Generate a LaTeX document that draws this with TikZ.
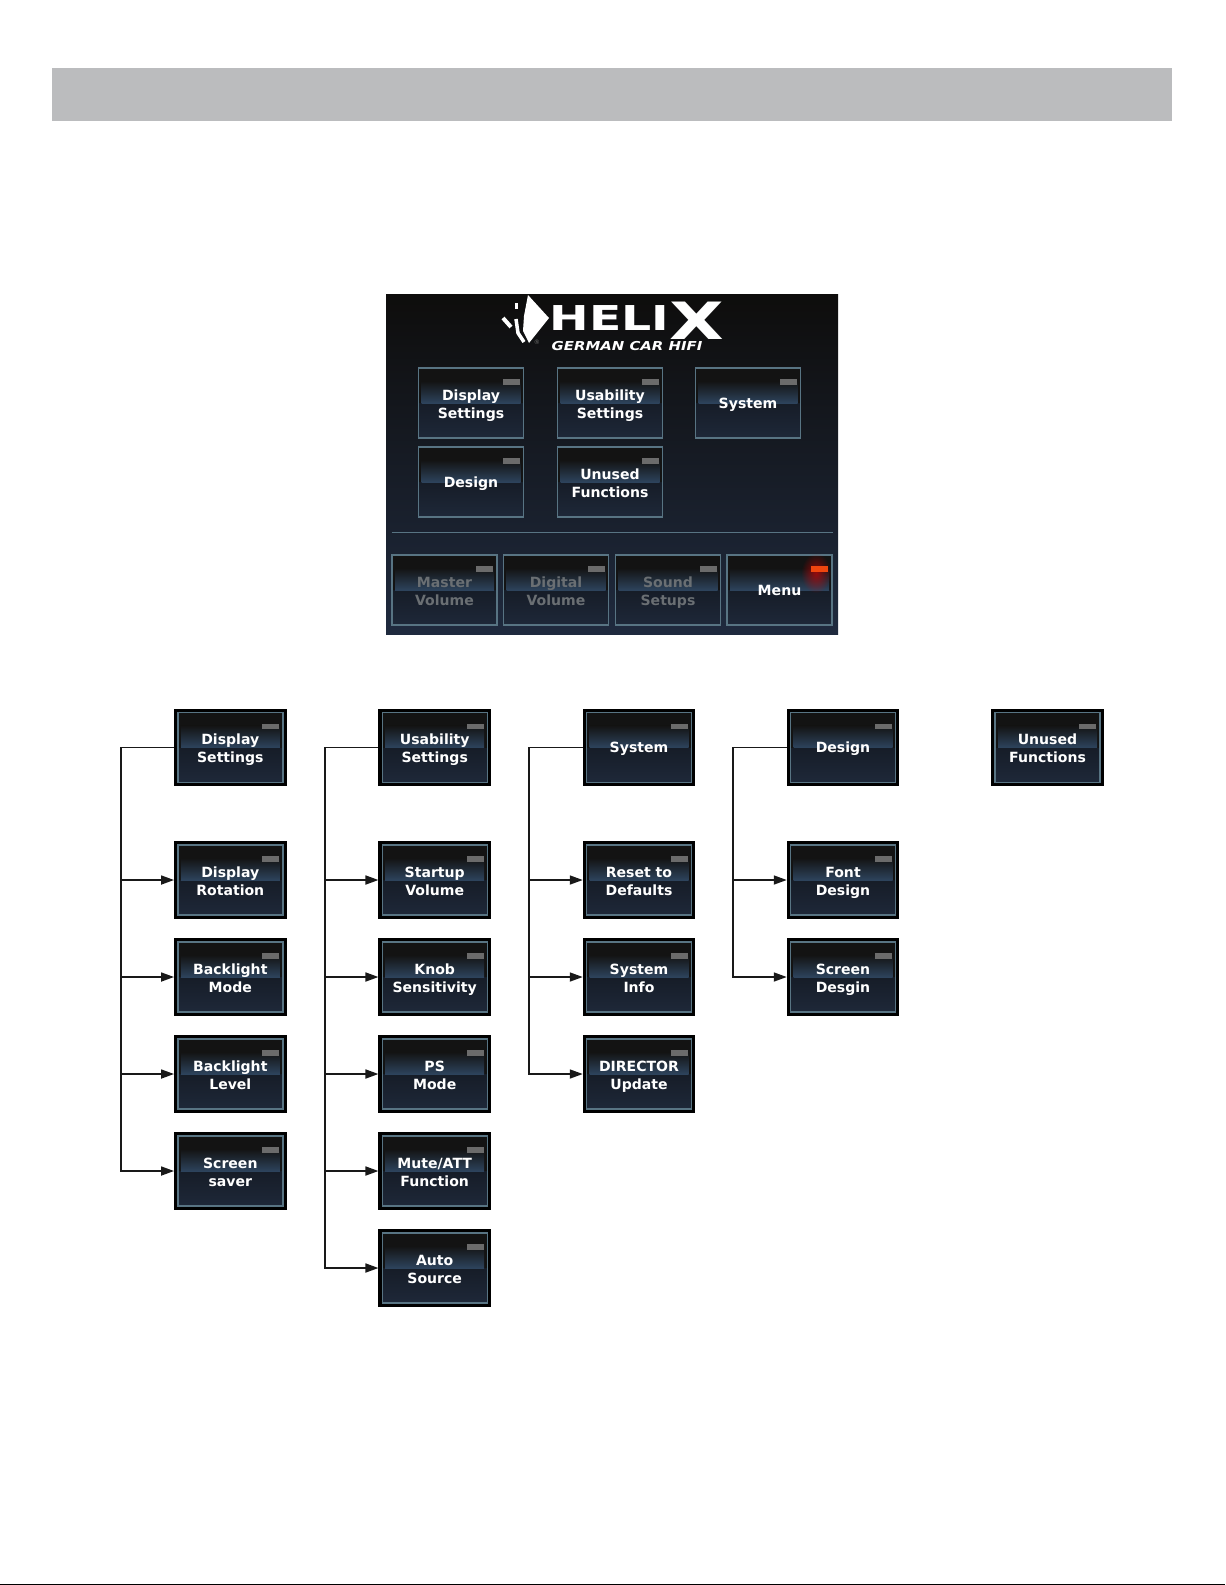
\documentclass[tikz,border=0pt]{standalone}
\usepackage{fontspec}
\setmainfont{DejaVu Sans}
\usetikzlibrary{arrows.meta,fadings}
\definecolor{barcol}{HTML}{BBBCBE}
\definecolor{paneltop}{HTML}{0E0D0C}
\definecolor{panelbot}{HTML}{1F2A3E}
\definecolor{btnframe}{HTML}{587483}
\definecolor{bandtop}{HTML}{131313}
\definecolor{bandbot}{HTML}{2D435C}
\definecolor{lowtop}{HTML}{0E1116}
\definecolor{lowbot}{HTML}{1E2839}
\definecolor{ledoff}{HTML}{6B6B6B}
\definecolor{ledon}{HTML}{F0460F}
\definecolor{dimtext}{HTML}{6A6F73}
\newcommand{\btnfont}{\fontsize{8}{10.4}\selectfont\bfseries}
\newcommand{\tworow}[1]{\rule{0pt}{9pt}#1\rule[-2pt]{0pt}{2pt}}
\tikzfading[name=ledfade, inner color=transparent!35, outer color=transparent!100]
\tikzset{
  menubtn/.style={rectangle, minimum width=21mm, minimum height=14mm, inner sep=0pt,
    draw=btnframe, line width=0.28mm, text=white, align=center, font=\btnfont,
    path picture={
      \shade[top color=lowtop, bottom color=lowbot] (path picture bounding box.west) rectangle (path picture bounding box.south east);
      \fill[bandtop] (path picture bounding box.west) rectangle (path picture bounding box.north east);
      \shade[top color=bandtop, bottom color=bandbot]
        ([xshift=0.6mm]path picture bounding box.west) rectangle ([shift={(-0.6mm,4.4mm)}]path picture bounding box.east);
      \fill[ledoff] ([shift={(6.36mm,3.67mm)}]path picture bounding box.center) rectangle ([shift={(9.76mm,4.73mm)}]path picture bounding box.center);
    }},
  oneline/.style={execute at begin node={\rule{0pt}{7.7pt}}, execute at end node={\rule[-2pt]{0pt}{2pt}}},
  boxed/.style={preaction={draw=black, line width=1.5mm}, outer sep=0.75mm},
  dimmed/.style={text=dimtext},
  wire/.style={black!90, line width=0.34mm},
  link/.style={wire, -{Triangle[length=2.6mm,width=1.8mm]}},
}
\begin{document}
\begin{tikzpicture}[x=0.2mm, y=-0.2mm]
\useasboundingbox (0,0) rectangle (1225,1585);
\fill[white] (0,0) rectangle (1225,1585);
\fill[barcol] (52,68) rectangle (1172,120.7);
\fill[black] (0,1583.6) rectangle (1225,1585);
% screen
\shade[top color=paneltop, bottom color=panelbot] (386,294) rectangle (838,634);
\fill[white] (528,295)--(549,318)--(529,343)--(523,331)--(524,316)--cycle;
\draw[white, line width=0.6mm] (516,303)--(516,309);
\draw[white, line width=0.8mm] (503,318)--(511,327);
\draw[white, line width=0.7mm] (516,319)--(518,333)--(524,342);
\node[text=white, font=\fontsize{19.5}{20}\selectfont\bfseries, inner sep=0pt, xscale=1.38] (logoname) at (637,321)
  {HELI\raisebox{-1.9mm}{\scalebox{1.5}{X}}};
\node[text=white, font=\fontsize{7}{8}\selectfont\bfseries\itshape, inner sep=0pt, xscale=1.21] (logosub) at (627,346) {GERMAN CAR HIFI};
\node[text=ledoff, font=\fontsize{3.5}{4}\selectfont, inner sep=0pt] (logomark) at (537,342) {®};
\foreach \id/\x/\y/\txt in {pds/471/403/{Display\\Settings}, pus/610/403/{Usability\\Settings},
    puf/610/482/{Unused\\Functions}}{
  \node[menubtn] (\id) at (\x,\y) {\tworow{\txt}};
}
\node[menubtn, oneline] (psy) at (748,403) {System};
\node[menubtn, oneline] (pde) at (471,482) {Design};
\coordinate (sepl) at (391.5,532.3);
\coordinate (sepr) at (833,532.3);
\draw[btnframe, line width=0.2mm] (sepl)--(sepr);
\foreach \id/\x/\txt in {mvol/444.5/{Master\\Volume}, dvol/556/{Digital\\Volume}, sset/668/{Sound\\Setups}}{
  \node[menubtn, dimmed] (\id) at (\x,590) {\tworow{\txt}};
}
\node[menubtn, oneline] (menu) at (779.5,590) {Menu};
\fill[red!85!black, path fading=ledfade] ([shift={(7.3mm,3.4mm)}]menu.center) ellipse (3mm and 4mm);
\fill[ledon] ([shift={(6.36mm,3.67mm)}]menu.center) rectangle ([shift={(9.76mm,4.73mm)}]menu.center);
% first column
\foreach \id/\y/\txt in {ds/747.5/{Display\\Settings}, dr/880/{Display\\Rotation}, bm/977/{Backlight\\Mode},
    bl/1074/{Backlight\\Level}, ss/1171/{Screen\\saver}}{
  \node[menubtn, boxed] (\id) at (230.3,\y) {\tworow{\txt}};
}
% second column
\foreach \id/\y/\txt in {us/747.5/{Usability\\Settings}, sv/880/{Startup\\Volume}, ks/977/{Knob\\Sensitivity},
    ps/1074/{PS\\Mode}, ma/1171/{Mute/ATT\\Function}, as/1268/{Auto\\Source}}{
  \node[menubtn, boxed] (\id) at (434.7,\y) {\tworow{\txt}};
}
% third column
\node[menubtn, boxed, oneline] (sy) at (639,747.5) {System};
\foreach \id/\y/\txt in {rd/880/{Reset to\\Defaults}, si/977/{System\\Info}, du/1074/{DIRECTOR\\Update}}{
  \node[menubtn, boxed] (\id) at (639,\y) {\tworow{\txt}};
}
% fourth column
\node[menubtn, boxed, oneline] (de) at (843,747.5) {Design};
\foreach \id/\y/\txt in {fd/880/{Font\\Design}, sc/977/{Screen\\Desgin}}{
  \node[menubtn, boxed] (\id) at (843,\y) {\tworow{\txt}};
}
\node[menubtn, boxed] (uf) at (1047.5,747.5) {\tworow{Unused\\Functions}};
% connectors
\foreach \top/\x/\list/\last in {ds/121/{dr,bm,bl}/ss, us/325/{sv,ks,ps,ma}/as, sy/529/{rd,si}/du, de/733/{fd}/sc}{
  \coordinate (trunk) at (\x,747.5);
  \draw[link] (\top.west)--(trunk)|-(\last.west);
  \foreach \c in \list{
    \draw[link] (trunk|-\c.west)--(\c.west);
  }
}
\end{tikzpicture}
\end{document}
